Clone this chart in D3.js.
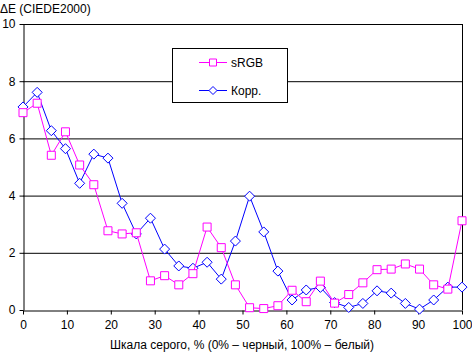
<!DOCTYPE html>
<html>
<head>
  <meta http-equiv="Content-Type" content="text/html;charset=utf-8" />
  <style type="text/css">
    body { margin: 0; background: #fff; }
    text { font-family: "Liberation Sans", Arial, sans-serif; font-size: 12px; fill: #000; }
  </style>
</head>
<body>
  <div id="svgContainer"></div>
  <script src="https://d3js.org/d3.v7.min.js"></script>
  <script type="text/javascript">
    var w = 472, h = 353;

    // data (32 grey levels, 0..100 %)
    var srgb = [6.9, 7.23, 5.41, 6.23, 5.07, 4.38, 2.77, 2.66, 2.7, 1.02, 1.2, 0.88, 1.27, 2.9, 2.18, 0.88,
      0.08, 0.05, 0.15, 0.69, 0.29, 1.01, 0.24, 0.54, 0.95, 1.41, 1.43, 1.61, 1.43, 0.88, 0.73, 3.12];
    var korr = [7.1, 7.61, 6.27, 5.64, 4.43, 5.45, 5.31, 3.73, 2.66, 3.21, 2.13, 1.54, 1.46, 1.67, 1.08, 2.41,
      3.98, 2.73, 1.36, 0.35, 0.7, 0.79, 0.26, 0.09, 0.23, 0.67, 0.59, 0.23, 0.03, 0.35, 0.8, 0.8];
    var seriesNames = ["sRGB", "\u041a\u043e\u0440\u0440."];
    var xTicks = [0, 10, 20, 30, 40, 50, 60, 70, 80, 90, 100];
    var yTicks = [0, 2, 4, 6, 8, 10];

    var svg = d3.select("#svgContainer")
      .append("svg")
      .attr("width", w)
      .attr("height", h);

    var xScale = d3.scaleLinear().domain([0, 100]).range([23, 462]);
    var yScale = d3.scaleLinear().domain([0, 10]).range([310, 24]);
    var xOf = function (d, i) { return xScale(i * 100 / 31); };

    // gridlines
    svg.selectAll(".grid")
      .data(yTicks.slice(1))
      .enter()
      .append("line")
      .attr("x1", xScale(0)).attr("x2", xScale(100))
      .attr("y1", d => yScale(d) + 0.5).attr("y2", d => yScale(d) + 0.5)
      .attr("stroke", "#000").attr("stroke-width", 1);

    // right border
    svg.append("line")
      .attr("x1", xScale(100) + 0.5).attr("x2", xScale(100) + 0.5)
      .attr("y1", yScale(10)).attr("y2", yScale(0))
      .attr("stroke", "#000");

    var xAxis = d3.axisBottom(xScale).tickValues(xTicks).tickSize(4).tickSizeOuter(0).tickPadding(6);
    var yAxis = d3.axisLeft(yScale).tickValues(yTicks).tickSize(4).tickSizeOuter(0).tickPadding(4);

    var gx = svg.append("g")
      .attr("transform", "translate(0," + (yScale(0) + 0.5) + ")")
      .call(xAxis);
    var gy = svg.append("g")
      .attr("transform", "translate(" + (xScale(0) + 0.5) + ",0)")
      .call(yAxis);
    [gx, gy].forEach(function (g) {
      g.selectAll("path, line").attr("stroke", "#000");
      g.selectAll("text").style("font-family", "Liberation Sans, Arial, sans-serif").style("font-size", "12px");
    });
    gy.selectAll("text").attr("x", -8);

    var line = d3.line().x(xOf).y(d => yScale(d));

    function drawSeries(data, color, shape) {
      svg.append("path")
        .attr("d", line(data))
        .attr("fill", "none")
        .attr("stroke", color)
        .attr("stroke-width", 1);
      svg.selectAll(null)
        .data(data)
        .enter()
        .append("path")
        .attr("transform", (d, i) => "translate(" + xOf(d, i) + "," + yScale(d) + ")")
        .attr("d", shape)
        .attr("fill", "#fff")
        .attr("stroke", color)
        .attr("stroke-width", 1);
    }
    var square = "M-4,-4H4V4H-4Z";
    var diamond = "M0,-5L5,0L0,5L-5,0Z";

    drawSeries(korr, "#0000ff", diamond);
    drawSeries(srgb, "#ff00ff", square);

    // legend
    var lg = svg.append("g");
    lg.append("rect")
      .attr("x", 172.5).attr("y", 48.5).attr("width", 115).attr("height", 54)
      .attr("fill", "#fff").attr("stroke", "#000");
    var legendItems = [[seriesNames[0], "#ff00ff", square, 62.5], [seriesNames[1], "#0000ff", diamond, 90.5]];
    legendItems.forEach(function (it) {
      lg.append("line").attr("x1", 199).attr("x2", 227).attr("y1", it[3]).attr("y2", it[3]).attr("stroke", it[1]);
      lg.append("path").attr("transform", "translate(213," + it[3] + ")")
        .attr("d", it[2] === square ? "M-3.5,-3.5H3.5V3.5H-3.5Z" : "M0,-4L4,0L0,4L-4,0Z")
        .attr("fill", "#fff").attr("stroke", it[1]);
      lg.append("text").attr("x", 231).attr("y", it[3] + 4.5).text(it[0]);
    });

    // titles
    svg.append("text").attr("x", 0).attr("y", 13).text("\u0394E (CIEDE2000)");
    svg.append("text").attr("x", 242).attr("y", 349).attr("text-anchor", "middle")
      .text("\u0428\u043a\u0430\u043b\u0430 \u0441\u0435\u0440\u043e\u0433\u043e, % (0% \u2013 \u0447\u0435\u0440\u043d\u044b\u0439, 100% \u2013 \u0431\u0435\u043b\u044b\u0439)");
  </script>
</body>
</html>
